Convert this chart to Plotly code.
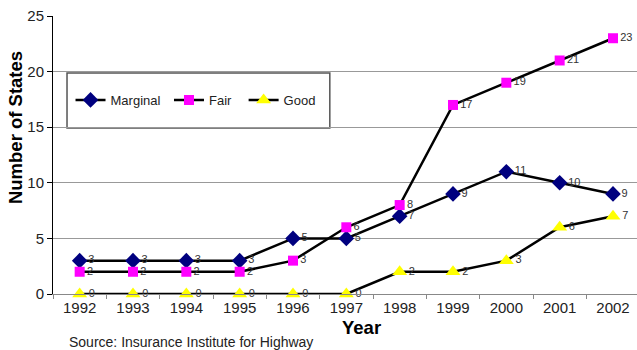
import plotly.graph_objects as go

# Crash-test ratings by year (number of states)
years = ["1992", "1993", "1994", "1995", "1996", "1997", "1998", "1999", "2000", "2001", "2002"]
marginal = [3, 3, 3, 3, 5, 5, 7, 9, 11, 10, 9]
fair = [2, 2, 2, 2, 3, 6, 8, 17, 19, 21, 23]
good = [0, 0, 0, 0, 0, 0, 2, 2, 3, 6, 7]

FONT = "Liberation Sans, Arial, sans-serif"
NBSP = "\u00a0"

# (legend label, values, marker symbol, fill colour, marker size)
series = [
    ("Marginal" + NBSP, marginal, "diamond", "#00007F", 12),
    ("Fair" + NBSP * 2, fair, "square", "#FF00FF", 10),
    ("Good", good, "triangle-up", "#FFFF00", 13),
]

fig = go.Figure()
for name, vals, symbol, color, size in series:
    fig.add_trace(go.Scatter(
        x=years, y=vals, name=name,
        mode="lines+markers+text",
        line=dict(color="black", width=2.5),
        marker=dict(symbol=symbol, color=color, size=size, line=dict(width=0)),
        text=[str(v) for v in vals],
        textposition="middle right",
        textfont=dict(family=FONT, size=11, color="#333333"),
        cliponaxis=False,
    ))

# Legend frame
fig.add_shape(type="rect", xref="paper", yref="paper",
              x0=0.024, x1=0.474, y0=0.597, y1=0.795,
              fillcolor="white", line=dict(color="#555555", width=1.5),
              layer="below")

fig.update_layout(
    width=637, height=350,
    margin=dict(l=53, r=0, t=16, b=56),
    paper_bgcolor="white", plot_bgcolor="rgba(0,0,0,0)",
    font=dict(family=FONT, color="#222222"),
    showlegend=True,
    legend=dict(orientation="h", x=0.03, y=0.698, xanchor="left", yanchor="middle",
                bgcolor="rgba(0,0,0,0)", borderwidth=0,
                font=dict(family=FONT, size=13, color="#222222")),
    xaxis=dict(type="category", range=[-0.5, 10.45],
               showgrid=False, showline=True, linecolor="#888888", linewidth=1,
               ticks="outside", tickson="boundaries", ticklen=4, tickcolor="#888888",
               tickfont=dict(family=FONT, size=15, color="#222222")),
    yaxis=dict(range=[0, 25], dtick=5, showgrid=True, gridcolor="#999999", gridwidth=1,
               zeroline=False, showline=True, linecolor="black", linewidth=1,
               ticks="outside", ticklen=5, tickcolor="black",
               tickfont=dict(family=FONT, size=15, color="#222222")),
    annotations=[
        dict(text="<b>Number of States</b>", xref="paper", yref="paper",
             x=-0.065, y=0.597, textangle=-90, showarrow=False,
             xanchor="center", yanchor="middle",
             font=dict(family=FONT, size=18.5, color="black")),
        dict(text="<b>Year</b>", xref="paper", yref="paper",
             x=0.529, y=-0.122, showarrow=False,
             xanchor="center", yanchor="middle",
             font=dict(family=FONT, size=18.5, color="black")),
        dict(text="Source: Insurance Institute for Highway", xref="paper", yref="paper",
             x=0.024, y=-0.173, showarrow=False,
             xanchor="left", yanchor="middle",
             font=dict(family=FONT, size=14, color="#222222")),
    ],
)

fig.write_html("out.html")
